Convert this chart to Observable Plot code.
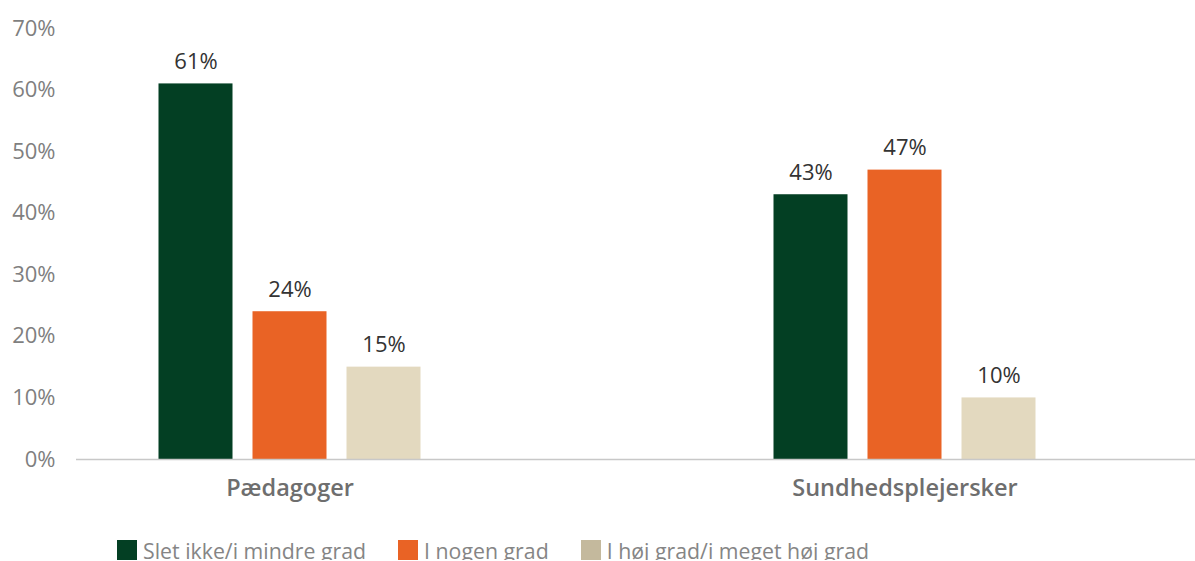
<!DOCTYPE html>
<html>
<head>
<meta charset="utf-8">
<script src="https://cdn.jsdelivr.net/npm/d3@7"></script>
<script src="https://cdn.jsdelivr.net/npm/@observablehq/plot@0.6"></script>
<style>
  html, body { margin: 0; padding: 0; background: #fff; font-family: "Open Sans", sans-serif; overflow: hidden; }
  #legend { display: flex; align-items: center; padding-left: 117px; padding-top: 12px; height: 20px; }
  .item { display: flex; align-items: center; margin-right: 32px; font-size: 21.3px; color: #858585; white-space: nowrap; }
  .sw { width: 20px; height: 20px; margin-right: 6px; }
</style>
</head>
<body>
<div id="chart"></div>
<div id="legend"></div>
<script>
const groups = ["Pædagoger", "Sundhedsplejersker"];
const series = ["Slet ikke/i mindre grad", "I nogen grad", "I høj grad/i meget høj grad"];
const paedagoger = [0.61, 0.24, 0.15];
const sundhedsplejersker = [0.43, 0.47, 0.10];
const barColors = ["#033f23", "#e96325", "#e3d9bf"];
const legendColors = ["#033f23", "#e96325", "#c4b99d"];
const yTicks = [0, 0.1, 0.2, 0.3, 0.4, 0.5, 0.6, 0.7];

const values = [paedagoger, sundhedsplejersker];
const data = [];
groups.forEach((g, gi) => series.forEach((s, si) => data.push({group: g, series: s, si, value: values[gi][si]})));

const step = 94;
const marks = [];
series.forEach((s, i) => {
  const sub = data.filter(d => d.series === s);
  marks.push(Plot.barY(sub, {x: "group", y: "value", fill: barColors[i], dx: (i - 1) * step, insetLeft: 270.5, insetRight: 270.5}));
  marks.push(Plot.text(sub, {x: "group", y: "value", text: d => Math.round(d.value * 100) + "%", dx: (i - 1) * step, dy: -22, fontSize: 22, fill: "#333333"}));
});

const chart = Plot.plot({
  width: 1195,
  height: 528,
  marginLeft: 76,
  marginRight: 0,
  marginTop: 28,
  marginBottom: 69,
  style: {fontFamily: "'Open Sans', sans-serif", background: "#fff"},
  x: {domain: groups, range: [-18.5, 1211.5], padding: 0, axis: null},
  y: {domain: [0, 0.7], axis: null},
  marks: [
    Plot.axisY(yTicks, {tickSize: 0, tickPadding: 21, tickFormat: d => Math.round(d * 100) + "%", fontSize: 22, fill: "#7f7f7f", label: null}),
    Plot.axisX({tickSize: 0, tickPadding: 20, fontSize: 23.5, fontWeight: 600, fill: "#6e6e6e", label: null}),
    ...marks,
    Plot.ruleY([0], {stroke: "#c8c8c8", strokeWidth: 1.5})
  ]
});
document.getElementById("chart").appendChild(chart);

const legend = d3.select("#legend");
series.forEach((s, i) => {
  const item = legend.append("div").attr("class", "item");
  item.append("div").attr("class", "sw").style("background", legendColors[i]);
  item.append("span").text(s);
});
</script>
</body>
</html>
